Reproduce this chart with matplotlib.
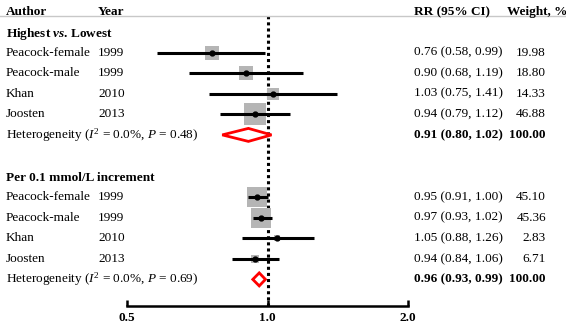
import numpy as np
import matplotlib
matplotlib.use('Agg')
import matplotlib.pyplot as plt
from matplotlib.patches import Polygon
from matplotlib.lines import Line2D

# data
authors = ['Peacock-female', 'Peacock-male', 'Khan', 'Joosten']
years = ['1999', '1999', '2010', '2013']

hl_rr = [0.76, 0.90, 1.03, 0.94]
hl_lo = [0.58, 0.68, 0.75, 0.79]
hl_hi = [0.99, 1.19, 1.41, 1.12]
hl_w = [19.98, 18.80, 14.33, 46.88]
hl_pooled = [0.91, 0.80, 1.02]
hl_p = 0.48

inc_rr = [0.95, 0.97, 1.05, 0.94]
inc_lo = [0.91, 0.93, 0.88, 0.84]
inc_hi = [1.00, 1.02, 1.26, 1.06]
inc_w = [45.10, 45.36, 2.83, 6.71]
inc_pooled = [0.96, 0.93, 0.99]
inc_p = 0.69

xticks = [0.5, 1.0, 2.0]

plt.rcParams['font.family'] = ['Liberation Serif', 'DejaVu Serif']
plt.rcParams['mathtext.fontset'] = 'custom'
plt.rcParams['mathtext.rm'] = 'Liberation Serif'
plt.rcParams['mathtext.it'] = 'Liberation Serif:italic'
plt.rcParams['mathtext.bf'] = 'Liberation Serif:bold'
plt.rcParams['mathtext.bfit'] = 'Liberation Serif:bold:italic'

W, H = 566, 325
fig = plt.figure(figsize=(W / 100, H / 100), dpi=100)

# plot axes in pixel layout (y measured from top)
x0, x1 = 127, 408
y_top, y_axis = 16, 306
ax = fig.add_axes([x0 / W, 1 - y_axis / H, (x1 - x0) / W, (y_axis - y_top) / H])
ax.set_xscale('log')
ax.set_xlim(0.5, 2.0)
ax.set_ylim(y_axis, y_top)
for s in ['top', 'left', 'right']:
    ax.spines[s].set_visible(False)
ax.spines['bottom'].set_linewidth(1.8)
ax.set_yticks([])
ax.set_xticks(xticks)
ax.set_xticklabels(['%.1f' % t for t in xticks], fontweight='bold', fontsize=9.5)
ax.minorticks_off()
ax.tick_params(axis='x', direction='in', length=4, width=1.8, pad=4.5)
ax.patch.set_visible(False)

ax.axvline(1.0, color='black', ls=(0, (1, 1)), lw=2.2, zorder=1)

FS = 9.5


def txt(xp, yp, s, **kw):
    fig.text(xp / W, 1 - yp / H, s, va='center', fontsize=FS, **kw)


# header
txt(6, 12, 'Author', fontweight='bold')
txt(98, 12, 'Year', fontweight='bold')
txt(414, 12, 'RR (95% CI)', fontweight='bold')
txt(507, 12, 'Weight, %', fontweight='bold')
fig.add_artist(Line2D([0, 1], [1 - 16 / H, 1 - 16 / H], transform=fig.transFigure,
                      color='#c8c8c8', lw=1))


def draw_group(title, title_y, row0, rr, lo, hi, w, pooled, p):
    txt(6, title_y, title, fontweight='bold')
    ys = [row0 + 20.6 * i for i in range(len(rr) + 1)]
    for i in range(len(rr)):
        y = ys[i]
        ax.plot([lo[i], hi[i]], [y, y], color='black', lw=2.2, solid_capstyle='butt', zorder=3)
        ax.scatter([rr[i]], [y], s=5.0 * w[i], marker='s', color='#b5b5b5', zorder=2, lw=0)
        ax.plot([rr[i]], [y], 'o', color='black', ms=3.5, zorder=4)
        txt(6, y, authors[i])
        txt(98, y, years[i])
        txt(414, y, '%.2f (%.2f, %.2f)' % (rr[i], lo[i], hi[i]))
        txt(546, y, '%.2f' % w[i], ha='right')
    y = ys[-1]
    est, plo, phi = pooled
    d = Polygon([[plo, y], [est, y - 6.5], [phi, y], [est, y + 6.5]], closed=True,
                facecolor='white', edgecolor='red', lw=2, zorder=5)
    ax.add_patch(d)
    txt(6, y, r'Heterogeneity ($\mathit{I}^2$ = 0.0%%, $\mathit{P}$ = %.2f)' % p)
    txt(414, y, '%.2f (%.2f, %.2f)' % (est, plo, phi), fontweight='bold')
    txt(546, y, '100.00', ha='right', fontweight='bold')


draw_group(r'Highest $\mathbfit{vs}$. Lowest', 34, 52.5, hl_rr, hl_lo, hl_hi, hl_w, hl_pooled, hl_p)
draw_group('Per 0.1 mmol/L increment', 178, 197, inc_rr, inc_lo, inc_hi, inc_w, inc_pooled, inc_p)

fig.savefig('out.png', dpi=100)
